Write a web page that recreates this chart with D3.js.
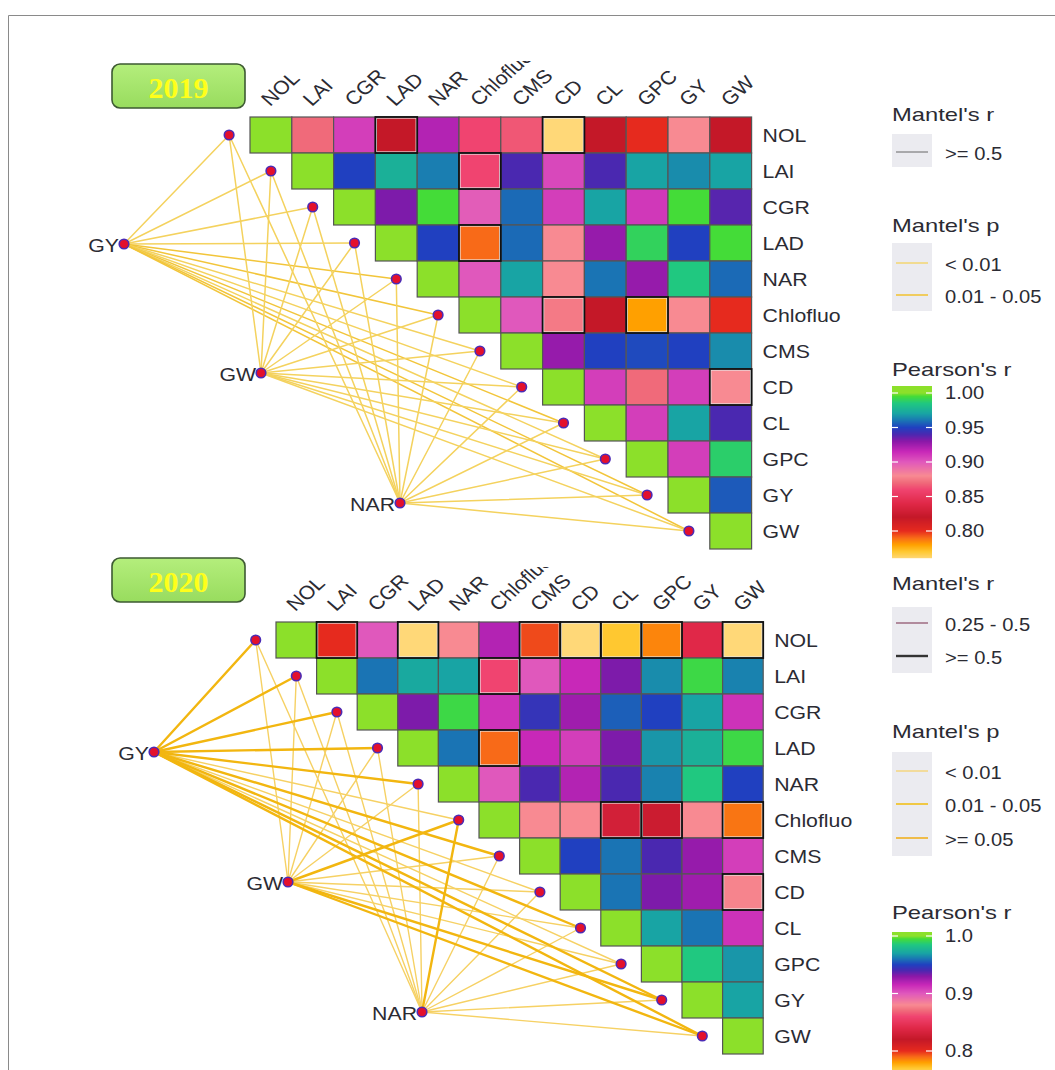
<!DOCTYPE html>
<html><head><meta charset="utf-8">
<script src="https://cdn.jsdelivr.net/npm/d3@7"></script>
<style>body{margin:0;background:#fff}svg{display:block}</style>
</head><body><svg id="c" width="1055" height="1070"></svg>
<script>
// ---------- DATA ----------
const variables = ["NOL","LAI","CGR","LAD","NAR","Chlofluo","CMS","CD","CL","GPC","GY","GW"];
const hubs = ["GY","GW","NAR"];
const years = ["2019","2020"];

// Pearson's r, upper triangle, row i holds columns i+1..11
const pearson2019 = [
  [0.87,0.908,0.82,0.92,0.86,0.865,0.76,0.82,0.80,0.88,0.82],
  [0.95,0.975,0.962,0.86,0.94,0.905,0.94,0.97,0.965,0.97],
  [0.932,0.995,0.898,0.958,0.908,0.97,0.91,0.995,0.938],
  [0.95,0.79,0.958,0.88,0.927,0.99,0.95,0.995],
  [0.90,0.97,0.88,0.96,0.927,0.985,0.958],
  [0.90,0.875,0.82,0.78,0.88,0.80],
  [0.927,0.95,0.952,0.95,0.965],
  [0.908,0.87,0.908,0.88],
  [0.908,0.97,0.94],
  [0.908,0.988],
  [0.955]
];
const pearson2020 = [
  [0.80,0.90,0.76,0.88,0.92,0.795,0.76,0.77,0.785,0.84,0.76],
  [0.96,0.972,0.97,0.86,0.90,0.915,0.932,0.965,0.993,0.963],
  [0.932,0.993,0.912,0.945,0.925,0.956,0.95,0.97,0.912],
  [0.96,0.79,0.915,0.908,0.932,0.967,0.975,0.993],
  [0.90,0.94,0.92,0.94,0.963,0.985,0.95],
  [0.88,0.88,0.83,0.825,0.88,0.788],
  [0.95,0.96,0.94,0.927,0.908],
  [0.96,0.932,0.925,0.878],
  [0.97,0.96,0.912],
  [0.985,0.967],
  [0.97]
];
// cells flagged as significant (outlined)
const signif2019 = [["NOL","LAD"],["NOL","CD"],["LAI","Chlofluo"],["LAD","Chlofluo"],["Chlofluo","CD"],["Chlofluo","GPC"],["CD","GW"]];
const signif2020 = [["NOL","LAI"],["NOL","LAD"],["NOL","CMS"],["NOL","CD"],["NOL","CL"],["NOL","GPC"],["NOL","GW"],
                    ["LAI","Chlofluo"],["LAD","Chlofluo"],["Chlofluo","CL"],["Chlofluo","GPC"],["Chlofluo","GW"],["CD","GW"]];

// Mantel links: p class per target variable ("a" <0.01, "b" 0.01-0.05, "c" >=0.05)
const mantelP2019_GY  = ["a","a","a","a","b","b","a","a","b","a","b","b"];
const mantelP2019_GW  = ["a","a","a","a","a","a","a","a","a","a","a","a"];
const mantelP2019_NAR = ["a","a","a","a","a","a","a","a","a","a","a","a"];
// r class per target ("m" 0.25-0.5, "h" >=0.5)
const mantelR2019_GY  = ["h","h","h","h","h","h","h","h","h","h","h","h"];
const mantelR2019_GW  = ["h","h","h","h","h","h","h","h","h","h","h","h"];
const mantelR2019_NAR = ["h","h","h","h","h","h","h","h","h","h","h","h"];

const mantelP2020_GY  = ["b","b","b","b","b","a","b","a","b","a","b","b"];
const mantelP2020_GW  = ["a","a","a","a","a","b","a","a","a","a","b","b"];
const mantelP2020_NAR = ["a","a","a","a","a","b","a","a","a","a","a","a"];
const mantelR2020_GY  = ["h","h","h","h","h","m","h","m","h","m","h","h"];
const mantelR2020_GW  = ["m","m","m","m","m","h","m","m","m","m","h","h"];
const mantelR2020_NAR = ["m","m","m","m","m","h","m","m","m","m","m","m"];

const legendTicks2019 = [1.00,0.95,0.90,0.85,0.80];
const legendTicks2020 = [1.0,0.9,0.8];
const mantelRLabels2019 = [">= 0.5"];
const mantelPLabels2019 = ["< 0.01","0.01 - 0.05"];
const mantelRLabels2020 = ["0.25 - 0.5",">= 0.5"];
const mantelPLabels2020 = ["< 0.01","0.01 - 0.05",">= 0.05"];

// ---------- SCALES / STYLE ----------
const color = d3.scaleLinear()
  .domain([0.74,0.76,0.77,0.78,0.79,0.80,0.82,0.84,0.86,0.87,0.88,0.90,0.915,0.93,0.94,0.95,0.96,0.97,0.985,0.995,1.0])
  .range(["#ffe89a","#ffd878","#ffc830","#ffa000","#f86a18","#e62a1e","#c41828","#e02848","#f04470","#f06a7a","#f88a92",
          "#e058bc","#c828b8","#8a18a8","#4a28b0","#2040c0","#1a74b4","#18a4a4","#20c880","#44dc38","#8ce02a"])
  .clamp(true);

const font = "'Liberation Sans', Arial, sans-serif";
const txtCol = "#2b2b33";
const svg = d3.select("#c");
svg.append("rect").attr("width",1055).attr("height",1070).attr("fill","#fff");
svg.append("path").attr("d","M8.5,1070 V15.5 H1055").attr("fill","none").attr("stroke","#8a8a8a").attr("stroke-width",1);

function stext(sel, x, y, t, size, sx, anchor){
  return sel.append("text").attr("transform",`translate(${x},${y}) scale(${sx},1)`)
    .attr("text-anchor",anchor||"start").attr("dominant-baseline","central")
    .attr("font-family",font).attr("font-size",size).attr("fill",txtCol).text(t);
}

const pStyle2019 = {a:"#f4d25e", b:"#f2c53a", c:"#f0b020"};
const rWidth2019 = {m:1.2, h:1.5};
const rWidth2020 = {m:1.4, h:2.4};
const pStyle2020 = {a:"#f6d164", b:"#f2b610", c:"#f0b020"};

const panels = [
  {year:"2019", data:pearson2019, sig:signif2019, x0:250, y0:117, cw:41.8, ch:36,
   hubPos:{GY:[124,244],GW:[261,373],NAR:[400,503]},
   P:{GY:mantelP2019_GY,GW:mantelP2019_GW,NAR:mantelP2019_NAR},
   R:{GY:mantelR2019_GY,GW:mantelR2019_GW,NAR:mantelR2019_NAR},
   pcol:pStyle2019, rw:rWidth2019, box:[112,64,133,44], clipTop:61},
  {year:"2020", data:pearson2020, sig:signif2020, x0:276, y0:622, cw:40.6, ch:36,
   hubPos:{GY:[154,752],GW:[288,882],NAR:[422,1012]},
   P:{GY:mantelP2020_GY,GW:mantelP2020_GW,NAR:mantelP2020_NAR},
   R:{GY:mantelR2020_GY,GW:mantelR2020_GW,NAR:mantelR2020_NAR},
   pcol:pStyle2020, rw:rWidth2020, box:[112,558,133,44], clipTop:567}
];

const defs = svg.append("defs");
const grad = defs.append("linearGradient").attr("id","boxg").attr("x1",0).attr("y1",0).attr("x2",0).attr("y2",1);
grad.append("stop").attr("offset","0%").attr("stop-color","#b4ee7c");
grad.append("stop").attr("offset","100%").attr("stop-color","#98dc5e");

panels.forEach((P,pi)=>{
  const g = svg.append("g");
  const x = d3.scaleBand().domain(variables).range([P.x0, P.x0+variables.length*P.cw]);
  const y = d3.scaleBand().domain(variables).range([P.y0, P.y0+variables.length*P.ch]);

  // title box
  g.append("rect").attr("x",P.box[0]).attr("y",P.box[1]).attr("width",P.box[2]).attr("height",P.box[3])
    .attr("rx",8).attr("fill","url(#boxg)").attr("stroke","#3d5a32").attr("stroke-width",1.6);
  g.append("text").attr("x",P.box[0]+P.box[2]/2).attr("y",P.box[1]+P.box[3]/2+1)
    .attr("text-anchor","middle").attr("dominant-baseline","central")
    .attr("font-family","'Liberation Serif','DejaVu Serif',serif").attr("font-weight","bold")
    .attr("font-size",30).attr("fill","#ffff1a").text(P.year);

  // cells
  const cells = [];
  variables.forEach((rv,i)=>{
    cells.push({row:rv,col:rv,v:1});
    if(i<P.data.length) P.data[i].forEach((v,k)=>cells.push({row:rv,col:variables[i+1+k],v}));
  });
  g.selectAll("rect.cell").data(cells).join("rect").attr("class","cell")
    .attr("x",d=>x(d.col)).attr("y",d=>y(d.row))
    .attr("width",x.bandwidth()).attr("height",y.bandwidth())
    .attr("fill",d=>color(d.v)).attr("stroke","#555").attr("stroke-width",1.2);
  g.selectAll("rect.sig").data(P.sig).join("rect").attr("class","sig")
    .attr("x",d=>x(d[1])+1).attr("y",d=>y(d[0])+1)
    .attr("width",x.bandwidth()-2).attr("height",y.bandwidth()-2)
    .attr("fill","none").attr("stroke","#e8e8e8").attr("stroke-width",1.2);
  g.selectAll("rect.sigo").data(P.sig).join("rect").attr("class","sigo")
    .attr("x",d=>x(d[1])).attr("y",d=>y(d[0]))
    .attr("width",x.bandwidth()).attr("height",y.bandwidth())
    .attr("fill","none").attr("stroke","#111").attr("stroke-width",1.8);

  // column labels (clipped at top)
  const cid = "clip"+pi;
  defs.append("clipPath").attr("id",cid).append("rect").attr("x",0).attr("y",P.clipTop).attr("width",1055).attr("height",200);
  g.append("g").attr("clip-path",`url(#${cid})`).selectAll("text").data(variables).join("text")
    .attr("transform",d=>`translate(${x(d)+x.bandwidth()/2-1},${P.y0-10}) scale(1.12,1) rotate(-45)`)
    .attr("font-family",font).attr("font-size",19).attr("fill",txtCol).text(d=>d);

  // row labels
  variables.forEach(v=>stext(g, P.x0+variables.length*P.cw+11, y(v)+y.bandwidth()/2, v, 19, 1.12));

  // links
  const nodePos = v => [x(v)-x.bandwidth()/2, y(v)+y.bandwidth()/2];
  const links = [];
  hubs.forEach(h=>variables.forEach((v,k)=>links.push({h,v,p:P.P[h][k],r:P.R[h][k]})));
  links.sort((a,b)=>(a.r==="h")-(b.r==="h"));
  g.selectAll("line.lk").data(links).join("line").attr("class","lk")
    .attr("x1",d=>P.hubPos[d.h][0]).attr("y1",d=>P.hubPos[d.h][1])
    .attr("x2",d=>nodePos(d.v)[0]).attr("y2",d=>nodePos(d.v)[1])
    .attr("stroke",d=>P.pcol[d.p]).attr("stroke-width",d=>P.rw[d.r]).attr("stroke-linecap","round");

  // nodes
  const nodeStyle = s=>s.attr("r",4.8).attr("fill","#e3102c").attr("stroke","#4b2bb5").attr("stroke-width",1.6);
  g.selectAll("circle.vn").data(variables).join("circle").attr("class","vn")
    .attr("cx",d=>nodePos(d)[0]).attr("cy",d=>nodePos(d)[1]).call(nodeStyle);
  g.selectAll("circle.hn").data(hubs).join("circle").attr("class","hn")
    .attr("cx",d=>P.hubPos[d][0]).attr("cy",d=>P.hubPos[d][1]).call(nodeStyle);
  hubs.forEach(h=>stext(g, P.hubPos[h][0]-5, P.hubPos[h][1]+1, h, 19, 1.12, "end"));
});

// ---------- LEGENDS ----------
const lx = 892, tx = 945;
function title(t,yy){ stext(svg, lx, yy, t, 19, 1.25); }
function keyBox(yy,h){ svg.append("rect").attr("x",lx).attr("y",yy).attr("width",40).attr("height",h).attr("fill","#ebebf0"); }
function keyItem(yy,label,col,w){
  svg.append("line").attr("x1",lx+4).attr("x2",lx+36).attr("y1",yy).attr("y2",yy).attr("stroke",col).attr("stroke-width",w);
  stext(svg, tx, yy+2, label, 18, 1.12);
}
function colorbar(ticks,fmt,s,yTop,yBot){
  for(let py=Math.floor(yTop); py<yBot; py++){
    svg.append("rect").attr("x",lx).attr("y",py).attr("width",40).attr("height",1.2).attr("fill",color(s.invert(py+0.5)));
  }
  ticks.forEach(t=>{
    svg.append("line").attr("x1",lx).attr("x2",lx+6).attr("y1",s(t)).attr("y2",s(t)).attr("stroke","#fff").attr("stroke-width",1.2);
    svg.append("line").attr("x1",lx+34).attr("x2",lx+40).attr("y1",s(t)).attr("y2",s(t)).attr("stroke","#fff").attr("stroke-width",1.2);
    stext(svg, tx, s(t), fmt(t), 18, 1.12);
  });
}

// 2019
title("Mantel's r",115);
keyBox(134,33);
keyItem(152,mantelRLabels2019[0],"#666",1);
title("Mantel's p",226);
keyBox(243,68);
keyItem(263,mantelPLabels2019[0],pStyle2019.a,1.3);
keyItem(295,mantelPLabels2019[1],pStyle2019.b,1.6);
title("Pearson's r",370);
colorbar(legendTicks2019,d3.format(".2f"),d3.scaleLinear().domain([1.0,0.8]).range([393,531]),386,558);

// 2020
title("Mantel's r",584);
keyBox(607,66);
keyItem(623,mantelRLabels2020[0],"#8a4a66",1.2);
keyItem(656,mantelRLabels2020[1],"#333",2.4);
title("Mantel's p",732);
keyBox(752,104);
keyItem(771,mantelPLabels2020[0],"#f6d164",1.2);
keyItem(804,mantelPLabels2020[1],"#f2bf1a",1.6);
keyItem(838,mantelPLabels2020[2],"#f0b020",1.6);
title("Pearson's r",913);
colorbar(legendTicks2020,d3.format(".1f"),d3.scaleLinear().domain([1.0,0.8]).range([936,1051]),932,1070);
</script></body></html>
